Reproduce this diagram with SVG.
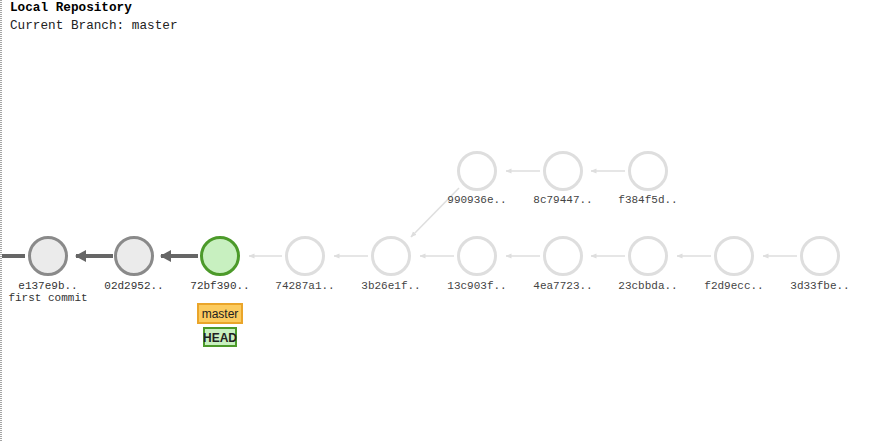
<svg xmlns="http://www.w3.org/2000/svg" width="894" height="442" viewBox="0 0 894 442">
<style>
.title{font-family:"Liberation Mono",monospace;font-size:12.7px;font-weight:bold;fill:#000}
.sub{font-family:"Liberation Mono",monospace;font-size:12.7px;fill:#222}
.lbl{font-family:"Liberation Mono",monospace;font-size:11px;fill:#333;text-anchor:middle}
.flbl{font-family:"Liberation Mono",monospace;font-size:11px;fill:#444;text-anchor:middle}
.c{fill:#ebebeb;stroke:#8a8a8a;stroke-width:3}
.f{fill:#fff;stroke:#dedede;stroke-width:3}
.g{fill:#c8f0c0;stroke:#4c9a2a;stroke-width:3}
.dl{stroke:#666;stroke-width:4;fill:none}
.fl{stroke:#dedede;stroke-width:1.5;fill:none}
.tag{font-family:"Liberation Sans",Arial,sans-serif;font-size:12px;fill:#222;text-anchor:middle}
</style>
<defs>
<marker id="ad" markerWidth="11" markerHeight="12" refX="10" refY="6" orient="auto" markerUnits="userSpaceOnUse" viewBox="0 0 11 12">
<path d="M0,0 L11,6 L0,12 Z" fill="#666"/>
</marker>
<marker id="af" markerWidth="6" markerHeight="6" refX="5.5" refY="3" orient="auto" markerUnits="userSpaceOnUse" viewBox="0 0 6 6">
<path d="M0,0.5 L6,3 L0,5.5 Z" fill="#dedede"/>
</marker>
</defs>
<rect x="0" y="0" width="894" height="442" fill="#fff"/>
<line x1="1" y1="0" x2="1" y2="442" stroke="#888" stroke-width="1.5" stroke-dasharray="1,1"/>
<text class="title" x="10" y="11">Local Repository</text>
<text class="sub" x="10" y="29">Current Branch: master</text>
<g id="connectors">
<line class="dl" x1="2" y1="256" x2="25" y2="256"/>
<line class="dl" x1="113" y1="256" x2="76" y2="256" marker-end="url(#ad)"/>
<line class="dl" x1="198" y1="256" x2="161" y2="256" marker-end="url(#ad)"/>
<line class="fl" x1="282" y1="256" x2="249" y2="256" marker-end="url(#af)"/>
<line class="fl" x1="368" y1="256" x2="334" y2="256" marker-end="url(#af)"/>
<line class="fl" x1="454" y1="256" x2="420" y2="256" marker-end="url(#af)"/>
<line class="fl" x1="540" y1="256" x2="506" y2="256" marker-end="url(#af)"/>
<line class="fl" x1="625" y1="256" x2="591" y2="256" marker-end="url(#af)"/>
<line class="fl" x1="711" y1="256" x2="677" y2="256" marker-end="url(#af)"/>
<line class="fl" x1="797" y1="256" x2="763" y2="256" marker-end="url(#af)"/>
<line class="fl" x1="540" y1="171" x2="506" y2="171" marker-end="url(#af)"/>
<line class="fl" x1="625" y1="171" x2="591" y2="171" marker-end="url(#af)"/>
<line class="fl" x1="459" y1="188" x2="411" y2="237" marker-end="url(#af)"/>
</g>
<g id="n-e137e9b"><circle class="c" cx="48" cy="256" r="18.5"/><text class="lbl" x="48" y="289">e137e9b..</text><text class="lbl" x="48" y="300.5">first commit</text></g>
<g id="n-02d2952"><circle class="c" cx="134" cy="256" r="18.5"/><text class="lbl" x="134" y="289">02d2952..</text></g>
<g id="n-72bf390"><circle class="g" cx="220" cy="256" r="18.5"/><text class="lbl" x="220" y="289">72bf390..</text></g>
<g id="n-74287a1"><circle class="f" cx="305" cy="256" r="18.5"/><text class="flbl" x="305" y="289">74287a1..</text></g>
<g id="n-3b26e1f"><circle class="f" cx="391" cy="256" r="18.5"/><text class="flbl" x="391" y="289">3b26e1f..</text></g>
<g id="n-13c903f"><circle class="f" cx="477" cy="256" r="18.5"/><text class="flbl" x="477" y="289">13c903f..</text></g>
<g id="n-4ea7723"><circle class="f" cx="563" cy="256" r="18.5"/><text class="flbl" x="563" y="289">4ea7723..</text></g>
<g id="n-23cbbda"><circle class="f" cx="648" cy="256" r="18.5"/><text class="flbl" x="648" y="289">23cbbda..</text></g>
<g id="n-f2d9ecc"><circle class="f" cx="734" cy="256" r="18.5"/><text class="flbl" x="734" y="289">f2d9ecc..</text></g>
<g id="n-3d33fbe"><circle class="f" cx="820" cy="256" r="18.5"/><text class="flbl" x="820" y="289">3d33fbe..</text></g>
<g id="n-990936e"><circle class="f" cx="477" cy="171" r="18.5"/><text class="flbl" x="477" y="203">990936e..</text></g>
<g id="n-8c79447"><circle class="f" cx="563" cy="171" r="18.5"/><text class="flbl" x="563" y="203">8c79447..</text></g>
<g id="n-f384f5d"><circle class="f" cx="648" cy="171" r="18.5"/><text class="flbl" x="648" y="203">f384f5d..</text></g>
<g id="tag-master"><rect x="198" y="304" width="44" height="19" fill="#fccb5e" stroke="#eaa52a" stroke-width="2"/><text class="tag" x="220" y="318">master</text></g>
<g id="tag-HEAD"><rect x="204" y="328" width="32" height="18" fill="#c8f0c0" stroke="#4c9a2a" stroke-width="2"/><text class="tag" x="220" y="342" font-weight="bold">HEAD</text></g>
</svg>
